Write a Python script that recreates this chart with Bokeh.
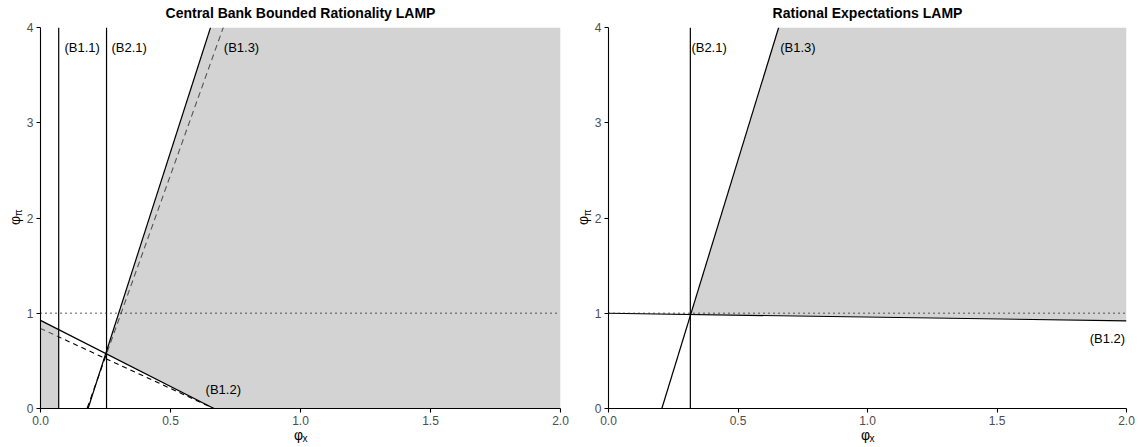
import math
from bokeh.plotting import figure
from bokeh.layouts import row
from bokeh.models import Range1d, Label, FixedTicker, Span
from bokeh.embed import file_html
from bokeh.resources import INLINE

# ---------------- data ----------------
x_ticks = [0.0, 0.5, 1.0, 1.5, 2.0]
x_tick_labels = ["0.0", "0.5", "1.0", "1.5", "2.0"]
y_ticks = [0, 1, 2, 3, 4]
y_tick_labels = ["0", "1", "2", "3", "4"]
unit_line = 1.0

# Left panel: Central Bank Bounded Rationality LAMP
br_b11_x = 0.07
br_b21_x = 0.254
br_b12_solid_x = [0.0, 0.667]
br_b12_solid_y = [0.925, 0.0]
br_b12_dash_x = [0.0, 0.667]
br_b12_dash_y = [0.84, 0.0]
br_b13_solid_x = [0.183, 0.654]
br_b13_solid_y = [0.0, 4.0]
br_b13_dash_x = [0.179, 0.703]
br_b13_dash_y = [0.0, 4.0]

# Right panel: Rational Expectations LAMP
re_b21_x = 0.316
re_b13_x = [0.206, 0.657]
re_b13_y = [0.0, 4.0]
re_b12_x = [0.0, 2.0]
re_b12_y = [1.0, 0.92]

TXT = "Liberation Sans"
FILL = "#a7a7a7"


def line_at(xs, ys, x):
    return ys[0] + (ys[1] - ys[0]) * (x - xs[0]) / (xs[1] - xs[0])


def intersect(ax, ay, bx, by):
    m1 = (ay[1] - ay[0]) / (ax[1] - ax[0])
    m2 = (by[1] - by[0]) / (bx[1] - bx[0])
    c1 = ay[0] - m1 * ax[0]
    c2 = by[0] - m2 * bx[0]
    x = (c2 - c1) / (m1 - m2)
    return x, m1 * x + c1


def dlabel(text, x, y, size, bold=False, angle=0.0):
    # placed in data units, hosted by a side panel so that it is not clipped to the frame
    return Label(x=x, y=y, text=text, text_align="center", text_baseline="middle", angle=angle,
                 text_font=TXT, text_font_size=size,
                 text_font_style="bold" if bold else "normal", text_color="black")


def make_fig(width, left_border, right_border, title):
    p = figure(width=width, height=447, output_backend="svg", toolbar_location=None,
               x_range=Range1d(0, 2), y_range=Range1d(0, 4),
               min_border_left=left_border, min_border_right=right_border,
               min_border_top=27, min_border_bottom=39)
    p.outline_line_color = None
    p.xgrid.visible = False
    p.ygrid.visible = False
    p.background_fill_color = "white"
    p.border_fill_color = "white"
    p.xaxis.ticker = FixedTicker(ticks=x_ticks)
    p.yaxis.ticker = FixedTicker(ticks=y_ticks)
    p.xaxis.major_label_overrides = {t: l for t, l in zip(x_ticks, x_tick_labels)}
    p.yaxis.major_label_overrides = {t: l for t, l in zip(y_ticks, y_tick_labels)}
    for ax in (p.xaxis, p.yaxis):
        ax.axis_line_color = "black"
        ax.axis_line_width = 1.1
        ax.major_tick_line_color = "black"
        ax.major_tick_line_width = 1.1
        ax.major_tick_out = 4
        ax.major_tick_in = 0
        ax.minor_tick_line_color = None
        ax.major_label_text_font = TXT
        ax.major_label_text_font_size = "12px"
        ax.major_label_text_color = "#4d4d4d"
        ax.major_label_standoff = 3
    # title
    p.add_layout(dlabel(title, 1.0, 4.155, "14px", bold=True), "above")
    # axis label phi_x
    p.add_layout(dlabel("φ", 0.992, -0.283, "14px"), "below")
    p.add_layout(dlabel("x", 1.017, -0.318, "10px"), "right")
    # axis label phi_pi
    p.add_layout(dlabel("φ", -0.1, 1.974, "14px", angle=math.pi / 2), "left")
    p.add_layout(dlabel("π", -0.083, 2.055, "10px", angle=math.pi / 2), "above")
    return p


def tag(p, x, y, text):
    p.add_layout(Label(x=x, y=y, text=text, text_align="left", text_baseline="middle",
                       text_font=TXT, text_font_size="13px", text_color="black"))


# ---------------- left panel ----------------
p1 = make_fig(570, 40, 10, "Central Bank Bounded Rationality LAMP")

# dashed lines (under the shading)
p1.line(br_b12_dash_x, br_b12_dash_y, line_color="black", line_width=1.1, line_dash="5 4")
p1.line(br_b13_dash_x, br_b13_dash_y, line_color="black", line_width=1.1, line_dash="6 4")

# shading
strip_x = [0.0, 0.0, br_b11_x, br_b11_x]
strip_y = [0.0, line_at(br_b12_solid_x, br_b12_solid_y, 0.0),
           line_at(br_b12_solid_x, br_b12_solid_y, br_b11_x), 0.0]
px, py = intersect(br_b13_solid_x, br_b13_solid_y, br_b12_solid_x, br_b12_solid_y)
main_x = [px, br_b13_solid_x[1], 2.0, 2.0, br_b12_solid_x[1]]
main_y = [py, br_b13_solid_y[1], 4.0, 0.0, br_b12_solid_y[1]]
p1.patch(strip_x, strip_y, fill_color=FILL, fill_alpha=0.5, line_color=None)
p1.patch(main_x, main_y, fill_color=FILL, fill_alpha=0.5, line_color=None)

# solid lines
p1.add_layout(Span(location=br_b11_x, dimension="height", line_color="black", line_width=1.2))
p1.add_layout(Span(location=br_b21_x, dimension="height", line_color="black", line_width=1.2))
p1.line(br_b12_solid_x, br_b12_solid_y, line_color="black", line_width=1.2)
p1.line(br_b13_solid_x, br_b13_solid_y, line_color="black", line_width=1.2)
p1.add_layout(Span(location=unit_line, dimension="width", line_color="#222222", line_width=1.3,
                   line_dash="1 4"))

tag(p1, 0.092, 3.79, "(B1.1)")
tag(p1, 0.273, 3.79, "(B2.1)")
tag(p1, 0.705, 3.79, "(B1.3)")
tag(p1, 0.635, 0.2, "(B1.2)")

# ---------------- right panel ----------------
p2 = make_fig(568, 38, 12, "Rational Expectations LAMP")

qx, qy = intersect(re_b13_x, re_b13_y, re_b12_x, re_b12_y)
re_x = [qx, re_b13_x[1], 2.0, 2.0]
re_y = [qy, re_b13_y[1], 4.0, line_at(re_b12_x, re_b12_y, 2.0)]
p2.patch(re_x, re_y, fill_color=FILL, fill_alpha=0.5, line_color=None)

p2.add_layout(Span(location=re_b21_x, dimension="height", line_color="black", line_width=1.2))
p2.line(re_b13_x, re_b13_y, line_color="black", line_width=1.2)
p2.line(re_b12_x, re_b12_y, line_color="black", line_width=1.2)
p2.add_layout(Span(location=unit_line, dimension="width", line_color="#222222", line_width=1.3,
                   line_dash="1 4"))

tag(p2, 0.32, 3.79, "(B2.1)")
tag(p2, 0.663, 3.79, "(B1.3)")
tag(p2, 1.858, 0.73, "(B1.2)")

layout = row(p1, p2)
open("out.html", "w").write(file_html(layout, INLINE))
